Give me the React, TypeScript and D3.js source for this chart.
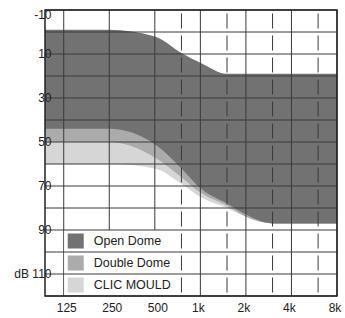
import * as d3 from "d3";

const FREQS = [125, 250, 500, 750, 1000, 1500, 2000, 3000, 4000, 6000, 8000];
const MAJOR_FREQS = [125, 250, 500, 1000, 2000, 4000, 8000];
const MAJOR_LABELS = ["125", "250", "500", "1k", "2k", "4k", "8k"];
const MINOR_FREQS = [750, 1500, 3000, 6000];
const DB_LABELS = [-10, 10, 30, 50, 70, 90, 110];

// fitting ranges, dB HL per frequency in FREQS
const clicUpper = [10, 10, 12, 18, 22, 26, 28, 28, 28, 28, 28];
const clicLower = [60, 60, 62, 69, 75, 80, 84, 87, 87, 87, 87];
const doubleUpper = [5, 5, 8, 14, 18, 22, 24, 24, 24, 24, 24];
const doubleLower = [50, 50, 57, 66, 73, 79, 84, 87, 87, 87, 87];
const openUpper = [-1, -1, 2, 9.5, 14, 19, 19, 19, 19, 19, 19];
const openLower = [44, 44, 51, 62, 71, 78, 83, 87, 87, 87, 87];

const LEGEND_NAMES = ["Open Dome", "Double Dome", "CLIC MOULD"];

const width = 345;
const height = 318;
const margin = { top: 10, right: 8, bottom: 22, left: 45 };

export default function App() {
  const x = d3
    .scaleLog()
    .domain([94, 8000])
    .range([margin.left, width - margin.right]);
  const y = d3
    .scaleLinear()
    .domain([-10, 120])
    .range([margin.top, height - margin.bottom]);
  const [x0, x1] = x.range();
  const [y0, y1] = y.range();

  const band = (upper: number[], lower: number[]) => {
    // start the band at the left edge of the plot with the 125 Hz value
    const pts = [{ f: x.domain()[0], u: upper[0], l: lower[0] }].concat(
      FREQS.map((f, i) => ({ f, u: upper[i], l: lower[i] }))
    );
    return (
      d3
        .area<{ f: number; u: number; l: number }>()
        .x((d) => x(d.f))
        .y0((d) => y(d.l))
        .y1((d) => y(d.u))
        .curve(d3.curveMonotoneX)(pts) ?? ""
    );
  };

  const series = [
    { name: "CLIC MOULD", color: "#d6d6d6", upper: clicUpper, lower: clicLower },
    { name: "Double Dome", color: "#ababab", upper: doubleUpper, lower: doubleLower },
    { name: "Open Dome", color: "#727272", upper: openUpper, lower: openLower }
  ];
  const colorOf = (name: string) => series.find((s) => s.name === name)?.color ?? "#999";

  const gridColor = "#3a3a3a";
  const font = "'Liberation Sans', Arial, sans-serif";
  const dbTicks = y.ticks(13);
  const legendLeft = x(125);
  const legendRight = x(750) - 6;

  return (
    <>
      <style>{`body{margin:0}`}</style>
      <svg width={width} height={height} style={{ display: "block", background: "#fff" }} fontFamily={font}>
        {series.map((s) => (
          <path key={s.name} d={band(s.upper, s.lower)} fill={s.color} />
        ))}

        {MAJOR_FREQS.map((f) => (
          <line key={f} x1={x(f)} x2={x(f)} y1={y0} y2={y1} stroke={gridColor} strokeWidth={1} />
        ))}
        {MINOR_FREQS.map((f) => (
          <line
            key={f}
            x1={x(f)}
            x2={x(f)}
            y1={y0}
            y2={y1}
            stroke={gridColor}
            strokeWidth={1}
            strokeDasharray="15 7"
            strokeDashoffset={18.5}
          />
        ))}

        <rect x={legendLeft + 0.5} y={y(90)} width={legendRight - legendLeft} height={y1 - y(90)} fill="#fff" />

        {dbTicks.map((t) => (
          <line key={t} x1={x0} x2={x1} y1={y(t)} y2={y(t)} stroke={gridColor} strokeWidth={1} />
        ))}

        {LEGEND_NAMES.map((name, i) => {
          const top = y(90 + i * 10);
          const mid = (top + y(100 + i * 10)) / 2;
          return (
            <g key={name}>
              <rect x={legendLeft + 4} y={mid - 7.5} width={16} height={15} fill={colorOf(name)} />
              <text x={legendLeft + 30} y={mid} dominantBaseline="central" fontSize={12.5} fill="#222">
                {name}
              </text>
            </g>
          );
        })}

        <rect x={x0} y={y0} width={x1 - x0} height={y1 - y0} fill="none" stroke="#222" strokeWidth={1.5} />

        {DB_LABELS.map((v) => (
          <text
            key={v}
            x={x0 + 6.5}
            y={Math.max(y(v), y0 + 5)}
            textAnchor="end"
            dominantBaseline="central"
            fontSize={12}
            fill="#222"
          >
            {v === 110 ? "dB 110" : v}
          </text>
        ))}

        {MAJOR_FREQS.map((f, i) => (
          <text
            key={f}
            x={x(f) + (MAJOR_LABELS[i].endsWith("k") ? -2 : 3)}
            y={y1 + 12}
            textAnchor="middle"
            dominantBaseline="central"
            fontSize={12}
            fill="#222"
          >
            {MAJOR_LABELS[i]}
          </text>
        ))}
      </svg>
    </>
  );
}
